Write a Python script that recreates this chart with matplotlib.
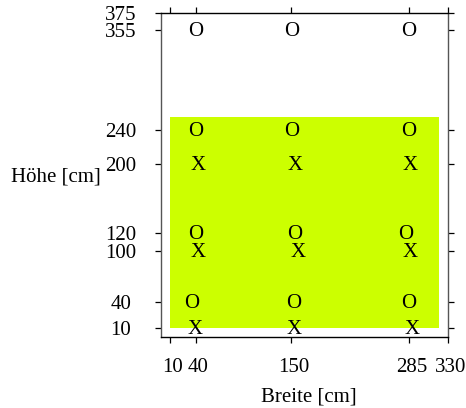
import matplotlib
matplotlib.use("Agg")
import matplotlib.pyplot as plt
import matplotlib.transforms as mtransforms
from matplotlib.patches import Rectangle

# Measurement grid (cm)
x_ticks = [10, 40, 150, 285, 330]
y_ticks = [10, 40, 100, 120, 200, 240, 355, 375]

# "O" positions
o_x = [40, 150, 285, 40, 150, 285, 40, 154, 281, 35, 153, 285]
o_y = [355, 355, 355, 240, 240, 240, 120, 120, 120, 40, 40, 40]

# "X" positions
x_x = [43, 154, 287, 43, 158, 286, 39, 153, 289]
x_y = [200, 200, 200, 100, 100, 100, 10, 10, 10]

# Highlighted zone: x0, y0, x1, y1
zone = [10, 10, 320, 255]

plt.rcParams["font.family"] = ["Liberation Serif", "DejaVu Serif"]
FS = 15

fig = plt.figure(figsize=(4.66, 4.08), dpi=100)
ax = fig.add_axes([161 / 466, 1 - 337 / 408, 287 / 466, 324 / 408])
ax.set_xlim(0, 330)
ax.set_ylim(0, 375)

ax.add_patch(Rectangle((zone[0], zone[1]), zone[2] - zone[0], zone[3] - zone[1],
                       facecolor="#CCFF00", edgecolor="none", zorder=1))

# Symbols are centred on their glyph body rather than the full text box
mark_tr = ax.transData + mtransforms.ScaledTranslation(0, -1.5 / 100,
                                                       fig.dpi_scale_trans)
for xv, yv in zip(o_x, o_y):
    ax.text(xv, yv, "O", ha="center", va="center", fontsize=FS, zorder=3,
            transform=mark_tr)
for xv, yv in zip(x_x, x_y):
    ax.text(xv, yv, "X", ha="center", va="center", fontsize=FS, zorder=3,
            transform=mark_tr)

for side in ["top", "bottom"]:
    ax.spines[side].set_color("black")
    ax.spines[side].set_linewidth(1.0)
for side in ["left", "right"]:
    ax.spines[side].set_color("#555555")
    ax.spines[side].set_linewidth(1.0)

ax.set_xticks(x_ticks)
ax.set_xticklabels([str(v) for v in x_ticks])
ax.set_yticks(y_ticks)
ax.set_yticklabels([str(v) for v in y_ticks])

ax.tick_params(axis="both", direction="out", length=4.3, width=0.9,
               color="black", labelsize=FS)
ax.tick_params(axis="x", top=True, bottom=True, labeltop=False, pad=11)
ax.tick_params(axis="y", left=True, right=True, labelright=False, pad=24.5)

for lab in ax.get_yticklabels():
    lab.set_horizontalalignment("center")

shift = mtransforms.ScaledTranslation(2.5 / 100, 0, fig.dpi_scale_trans)
for lab in ax.get_xticklabels():
    lab.set_transform(lab.get_transform() + shift)

fig.text(309 / 466, 1 - 397 / 408, "Breite [cm]", ha="center", va="center",
         fontsize=FS)
fig.text(56 / 466, 1 - 177 / 408, "Höhe [cm]", ha="center", va="center",
         fontsize=FS)

fig.savefig("out.png", dpi=100)
